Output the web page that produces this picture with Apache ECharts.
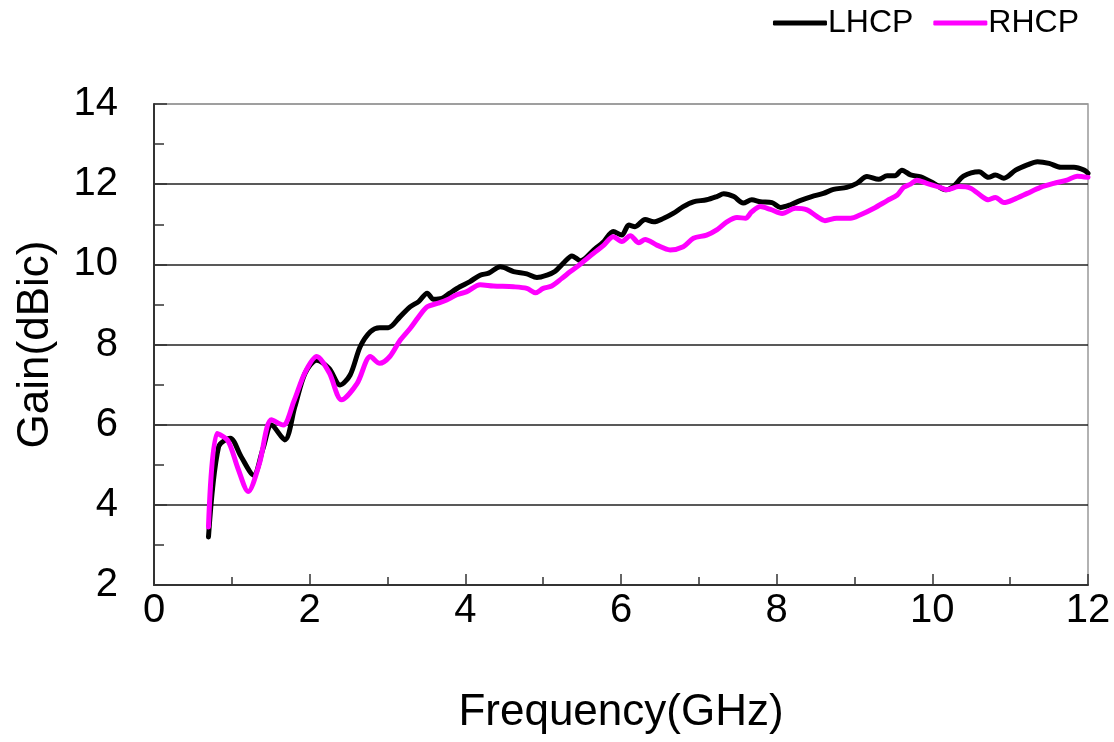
<!DOCTYPE html>
<html>
<head>
<meta charset="utf-8">
<script src="https://cdn.jsdelivr.net/npm/echarts@6/dist/echarts.min.js"></script>
<style>html,body{margin:0;padding:0;background:#fff}#c{width:1114px;height:742px}</style>
</head>
<body>
<div id="c"></div>
<script>
const lhcpFreq = [0.70,0.83,0.98,1.12,1.28,1.40,1.51,1.68,1.81,1.94,2.09,2.25,2.39,2.52,2.65,2.78,2.90,3.01,3.16,3.29,3.40,3.51,3.59,3.70,3.80,3.93,4.06,4.19,4.30,4.45,4.62,4.79,4.92,5.05,5.15,5.26,5.37,5.48,5.65,5.78,5.90,6.01,6.10,6.18,6.31,6.42,6.55,6.67,6.80,6.93,7.10,7.23,7.32,7.45,7.57,7.68,7.79,7.94,8.05,8.17,8.30,8.45,8.60,8.73,8.90,9.03,9.16,9.31,9.42,9.52,9.61,9.72,9.85,10.02,10.17,10.27,10.40,10.60,10.72,10.81,10.92,11.07,11.22,11.35,11.50,11.65,11.82,11.95,12.00];
const lhcpGain = [3.2,5.45,5.66,5.2,4.74,5.4,5.99,5.62,6.45,7.28,7.61,7.4,6.99,7.24,7.95,8.32,8.42,8.42,8.69,8.94,9.07,9.28,9.13,9.15,9.28,9.44,9.57,9.73,9.78,9.94,9.82,9.76,9.67,9.73,9.82,10.03,10.21,10.09,10.36,10.57,10.82,10.73,10.98,10.94,11.12,11.06,11.15,11.27,11.44,11.56,11.61,11.69,11.76,11.69,11.53,11.61,11.56,11.54,11.42,11.48,11.59,11.69,11.77,11.87,11.92,12.02,12.19,12.12,12.21,12.21,12.35,12.23,12.18,12.02,11.86,11.94,12.20,12.31,12.17,12.23,12.15,12.35,12.48,12.56,12.52,12.42,12.42,12.35,12.27];
const rhcpFreq = [0.70,0.81,0.95,1.08,1.21,1.35,1.51,1.66,1.80,1.94,2.09,2.25,2.41,2.61,2.78,2.90,3.03,3.16,3.29,3.40,3.51,3.65,3.76,3.89,4.02,4.19,4.36,4.62,4.79,4.90,5.00,5.11,5.24,5.35,5.48,5.65,5.78,5.90,6.01,6.12,6.23,6.31,6.46,6.63,6.80,6.93,7.10,7.23,7.36,7.49,7.60,7.68,7.79,7.92,8.07,8.24,8.39,8.52,8.62,8.77,8.95,9.07,9.25,9.42,9.55,9.63,9.72,9.80,9.93,10.10,10.19,10.34,10.49,10.64,10.72,10.81,10.92,11.05,11.22,11.39,11.56,11.73,11.86,12.00];
const rhcpGain = [3.45,5.78,5.6,4.9,4.33,5.0,6.12,5.99,6.6,7.3,7.70,7.3,6.62,7.03,7.70,7.53,7.70,8.1,8.40,8.69,8.94,9.03,9.11,9.24,9.32,9.49,9.46,9.44,9.40,9.29,9.40,9.46,9.65,9.82,10.01,10.28,10.48,10.69,10.57,10.71,10.54,10.62,10.48,10.36,10.44,10.65,10.73,10.86,11.06,11.17,11.15,11.31,11.44,11.37,11.27,11.40,11.36,11.19,11.09,11.15,11.15,11.23,11.40,11.59,11.73,11.92,12.00,12.10,12.02,11.92,11.86,11.94,11.90,11.69,11.61,11.67,11.54,11.62,11.77,11.92,12.02,12.10,12.20,12.17];
const seriesNames = ['LHCP','RHCP'];
const xTicks = [0,2,4,6,8,10,12];
const yTicks = [2,4,6,8,10,12,14];

const pair = (xs, ys) => xs.map((x, i) => [x, ys[i]]);
const FONT = 'Liberation Sans, Arial, sans-serif';
const chart = echarts.init(document.getElementById('c'), null, {renderer: 'canvas'});
chart.setOption({
  animation: false,
  backgroundColor: '#fff',
  textStyle: {fontFamily: FONT},
  legend: {
    data: seriesNames.map(n => ({name: n, icon: 'roundRect'})),
    right: 30, top: 2,
    itemWidth: 54, itemHeight: 5, itemGap: 20,
    textStyle: {fontSize: 32, color: '#000', fontFamily: FONT, padding: [0,0,0,-4]}
  },
  grid: {left: 154, right: 26, top: 104, bottom: 157, show: true, borderColor: '#999', borderWidth: 1.5, containLabel: false, outerBoundsMode: 'none'},
  xAxis: {
    type: 'value', min: xTicks[0], max: xTicks[xTicks.length-1], interval: 2,
    name: 'Frequency(GHz)', nameLocation: 'middle', nameGap: 106,
    nameTextStyle: {fontSize: 44, color: '#000', fontFamily: FONT},
    axisLine: {show: true, onZero: false, lineStyle: {color: '#333', width: 2}},
    axisTick: {show: true, inside: true, length: 11, lineStyle: {color: '#333', width: 1.5}},
    minorTick: {show: true, splitNumber: 2, length: 8, lineStyle: {color: '#333', width: 1.5}},
    axisLabel: {fontSize: 40, color: '#000', margin: 6, fontFamily: FONT},
    splitLine: {show: false}
  },
  yAxis: {
    type: 'value', min: yTicks[0], max: yTicks[yTicks.length-1], interval: 2,
    name: 'Gain(dBic)', nameLocation: 'middle', nameGap: 96,
    nameTextStyle: {fontSize: 44, color: '#000', fontFamily: FONT},
    axisLine: {show: true, onZero: false, lineStyle: {color: '#333', width: 2}},
    axisTick: {show: true, inside: true, length: 13, lineStyle: {color: '#333', width: 1.5}},
    minorTick: {show: true, splitNumber: 2, length: 10, lineStyle: {color: '#333', width: 1.5}},
    axisLabel: {fontSize: 40, color: '#000', margin: 36, fontFamily: FONT},
    splitLine: {show: true, lineStyle: {color: ['#222','#222','#222','#222','#222','#222','#999'], width: 1.5}}
  },
  series: [
    {name: seriesNames[0], type: 'line', data: pair(lhcpFreq, lhcpGain), showSymbol: false, symbol: 'none', smooth: 0.3,
     lineStyle: {color: '#000', width: 5, cap: 'round', join: 'round'}, itemStyle: {color: '#000'}},
    {name: seriesNames[1], type: 'line', data: pair(rhcpFreq, rhcpGain), showSymbol: false, symbol: 'none', smooth: 0.3,
     lineStyle: {color: '#ff00ff', width: 5, cap: 'round', join: 'round'}, itemStyle: {color: '#ff00ff'}}
  ]
});
</script>
</body>
</html>
